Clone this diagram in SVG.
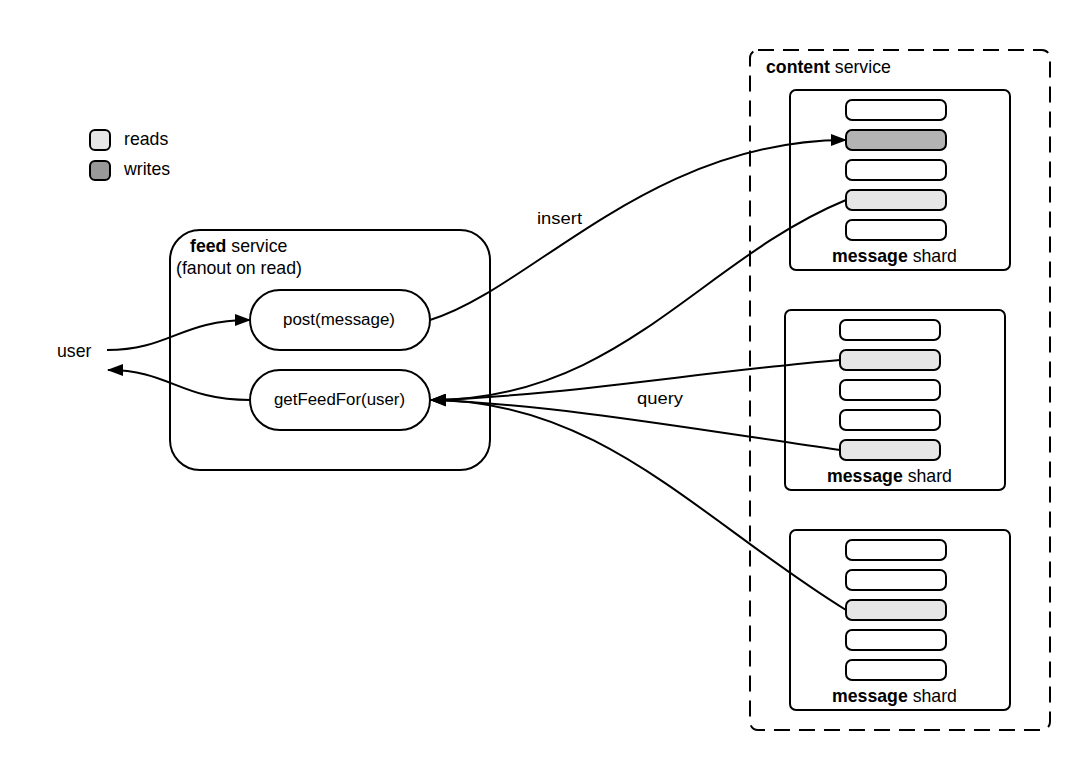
<svg xmlns="http://www.w3.org/2000/svg" width="1090" height="770" viewBox="0 0 1090 770">
<defs>
<style>
.t{font-family:"Liberation Sans",Arial,sans-serif;font-size:17.7px;fill:#000}
.b{font-weight:bold}
.l{font-family:"Liberation Sans",Arial,sans-serif;font-size:16px;fill:#000}
.box{fill:#fff;stroke:#000;stroke-width:2}
.row{fill:#fff;stroke:#000;stroke-width:2}
.rd{fill:#e6e6e6}
.wr{fill:#b3b3b3}
.edge{fill:none;stroke:#000;stroke-width:2}
</style>
<marker id="ah" markerWidth="16" markerHeight="12" refX="15" refY="6" orient="auto" markerUnits="userSpaceOnUse">
<path d="M0,0 L16,6 L0,12 Z" fill="#000"/>
</marker>
</defs>
<rect width="1090" height="770" fill="#fff"/>

<g id="legend">
<rect x="90" y="130" width="20" height="20" rx="5" fill="#e6e6e6" stroke="#000" stroke-width="2"/>
<text class="t" x="124" y="145">reads</text>
<rect x="90" y="161" width="20" height="19" rx="5" fill="#999" stroke="#000" stroke-width="2"/>
<text class="t" x="124" y="175">writes</text>
</g>

<g id="content-service">
<rect x="750" y="50" width="300" height="680" rx="8" fill="none" stroke="#000" stroke-width="2" stroke-dasharray="16 9"/>
<text class="t" x="766" y="73"><tspan class="b">content</tspan> service</text>
</g>

<g id="feed-service">
<rect class="box" x="170" y="230" width="320" height="240" rx="30"/>
<text class="t" x="190" y="252"><tspan class="b">feed</tspan> service</text>
<text class="t" x="176" y="274">(fanout on read)</text>
</g>

<g id="user">
<text class="t" x="57" y="357">user</text>
</g>

<g id="post">
<rect class="box" x="250" y="290" width="180" height="60" rx="30"/>
<text class="l" x="283" y="325" textLength="112" lengthAdjust="spacingAndGlyphs">post(message)</text>
</g>

<g id="getfeed">
<rect class="box" x="250" y="370" width="180" height="60" rx="30"/>
<text class="l" x="274" y="405" textLength="131" lengthAdjust="spacingAndGlyphs">getFeedFor(user)</text>
</g>

<g id="shard1">
<rect class="box" x="790" y="90" width="220" height="180" rx="6"/>
<rect class="row" x="846" y="100" width="100" height="20" rx="6"/>
<rect class="row wr" x="846" y="130" width="100" height="20" rx="6"/>
<rect class="row" x="846" y="160" width="100" height="20" rx="6"/>
<rect class="row rd" x="846" y="190" width="100" height="20" rx="6"/>
<rect class="row" x="846" y="220" width="100" height="20" rx="6"/>
<text class="t" x="832" y="262"><tspan class="b">message</tspan> shard</text>
</g>

<g id="shard2">
<rect class="box" x="785" y="310" width="220" height="180" rx="6"/>
<rect class="row" x="840" y="320" width="100" height="20" rx="6"/>
<rect class="row rd" x="840" y="350" width="100" height="20" rx="6"/>
<rect class="row" x="840" y="380" width="100" height="20" rx="6"/>
<rect class="row" x="840" y="410" width="100" height="20" rx="6"/>
<rect class="row rd" x="840" y="440" width="100" height="20" rx="6"/>
<text class="t" x="827" y="482"><tspan class="b">message</tspan> shard</text>
</g>

<g id="shard3">
<rect class="box" x="790" y="530" width="220" height="180" rx="6"/>
<rect class="row" x="846" y="540" width="100" height="20" rx="6"/>
<rect class="row" x="846" y="570" width="100" height="20" rx="6"/>
<rect class="row rd" x="846" y="600" width="100" height="20" rx="6"/>
<rect class="row" x="846" y="630" width="100" height="20" rx="6"/>
<rect class="row" x="846" y="660" width="100" height="20" rx="6"/>
<text class="t" x="832" y="702"><tspan class="b">message</tspan> shard</text>
</g>

<g id="connectors">
<path class="edge" d="M107,350 C170,350 180,320 250,320" marker-end="url(#ah)"/>
<path class="edge" d="M250,400 C180,400 170,370 108,370" marker-end="url(#ah)"/>
<path class="edge" d="M430,320 C530,290 650,140 846,140" marker-end="url(#ah)"/>
<path class="edge" d="M846,200 C700,260 620,400 431,400" marker-end="url(#ah)"/>
<path class="edge" d="M840,360 C700,372 560,396 431,400" marker-end="url(#ah)"/>
<path class="edge" d="M840,450 C700,430 560,405 431,400" marker-end="url(#ah)"/>
<path class="edge" d="M846,610 C700,520 600,400 431,400" marker-end="url(#ah)"/>
<text class="l" x="537" y="224" textLength="45" lengthAdjust="spacingAndGlyphs">insert</text>
<text class="l" x="637" y="404" textLength="46" lengthAdjust="spacingAndGlyphs">query</text>
</g>
</svg>
